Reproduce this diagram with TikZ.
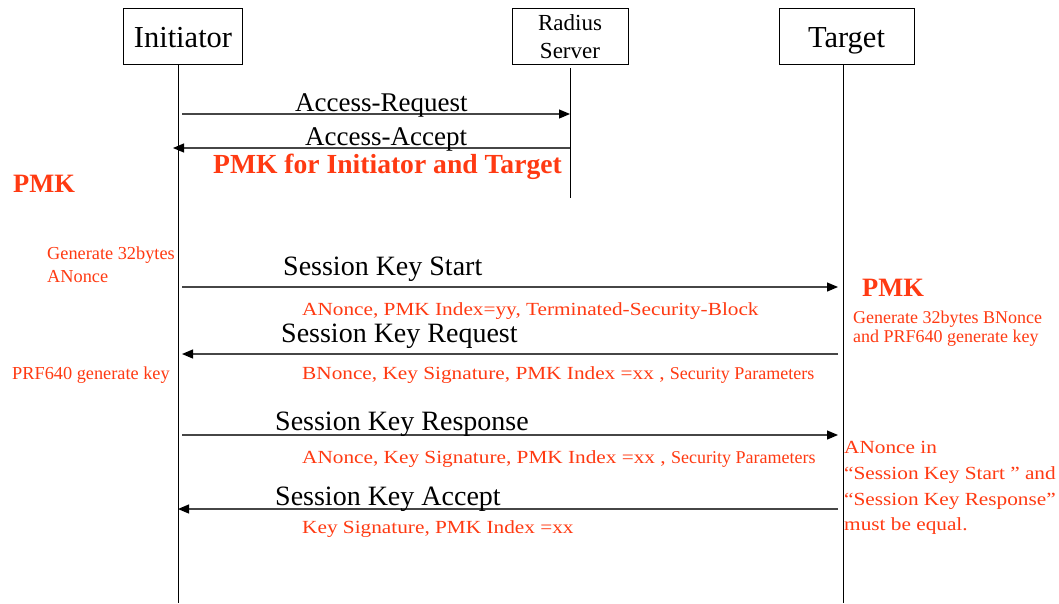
\documentclass[tikz,border=0pt]{standalone}
\usepackage{fontspec}
\setmainfont{Liberation Serif}
\newfontfamily\widefont[FakeStretch=1.15]{Liberation Serif}
\usetikzlibrary{arrows.meta}
\definecolor{note}{RGB}{255,58,18}
\definecolor{wire}{RGB}{70,70,70}
\newcommand\fs[1]{\fontsize{#1}{#1}\selectfont}
\tikzset{
  actor/.style={draw=black, line width=1pt, inner sep=0pt, minimum height=56pt},
  life/.style={draw=black, line width=0.9pt},
  msg/.style={draw=wire, line width=1.2pt, -{Triangle[length=11pt,width=9pt,color=black,fill=black]}},
  lbl/.style={anchor=base west, inner sep=0pt, font=\fs{28}},
  param/.style={anchor=base west, inner sep=0pt, text=note, font=\widefont\fs{18.5}},
  remark/.style={anchor=base west, inner sep=0pt, text=note, font=\fs{18.3}},
  keytag/.style={anchor=base west, inner sep=0pt, text=note, font=\bfseries\fs{26.5}},
}
\begin{document}
\begin{tikzpicture}[x=1pt, y=-1pt]
\useasboundingbox (0,0) rectangle (1059,603);
\fill[white] (0,0) rectangle (1059,603);

% participants
\node[actor, minimum width=119pt, font=\fs{30.5}, text height=24pt, text depth=2pt] (ini) at (183,36.5) {Initiator};
\node[actor, minimum width=116pt, font=\fs{23}, align=center] (rad) at (570,36.5) {Radius\\[5pt]Server};
\node[actor, minimum width=135pt, font=\fs{30.5}, text height=24pt, text depth=2pt] (tgt) at (846.5,36.5) {Target};

% lifelines
\coordinate (iniEnd) at (178,603);
\coordinate (radTop) at (570,68);
\coordinate (radEnd) at (570,198);
\coordinate (tgtTop) at (843,64.5);
\coordinate (tgtEnd) at (843,603);
\coordinate (iniTop) at (178,64.5);
\draw[life] (iniTop) -- (iniEnd);
\draw[life] (radTop) -- (radEnd);
\draw[life] (tgtTop) -- (tgtEnd);

% message end points on the lifelines
\coordinate (arA) at (182,114);  \coordinate (arB) at (570,114);
\coordinate (aaA) at (570,148);  \coordinate (aaB) at (173,148);
\coordinate (s1A) at (182,287);  \coordinate (s1B) at (838,287);
\coordinate (s2A) at (838,354);  \coordinate (s2B) at (182,354);
\coordinate (s3A) at (182,435);  \coordinate (s3B) at (838,435);
\coordinate (s4A) at (838,509);  \coordinate (s4B) at (178,509);

\draw[msg] (arA) -- (arB);
\draw[msg] (aaA) -- (aaB);
\draw[msg] (s1A) -- (s1B);
\draw[msg] (s2A) -- (s2B);
\draw[msg] (s3A) -- (s3B);
\draw[msg] (s4A) -- (s4B);

% message names
\node[lbl, font=\fs{27}] (arL) at (295,111) {Access-Request};
\node[lbl, font=\fs{27}] (aaL) at (305,145) {Access-Accept};
\node[lbl] (s1L) at (283,275) {Session Key Start};
\node[lbl] (s2L) at (281,342) {Session Key Request};
\node[lbl] (s3L) at (275,430) {Session Key Response};
\node[lbl] (s4L) at (275,505) {Session Key Accept};

% message contents
\node[keytag, font=\bfseries\fs{27.6}] (pmkAll) at (213,173) {PMK for Initiator and Target};
\node[param] (s1P) at (302,315) {ANonce, PMK Index=yy, Terminated-Security-Block};
\node[param] (s2P) at (302,379) {BNonce, Key Signature, PMK Index =xx , {\normalfont\fs{18}Security Parameters}};
\node[param] (s3P) at (302,463) {ANonce, Key Signature, PMK Index =xx , {\normalfont\fs{18}Security Parameters}};
\node[param] (s4P) at (302,533) {Key Signature, PMK Index =xx};

% initiator side notes
\node[keytag] (pmkI) at (13,192) {PMK};
\node[remark] (genA1) at (47,259) {Generate 32bytes};
\node[remark] (genA2) at (47,282) {ANonce};
\node[remark] (prfI) at (12,379) {PRF640 generate key};

% target side notes
\node[keytag] (pmkT) at (862,296) {PMK};
\node[remark, font=\fs{18}] (genB1) at (853,323) {Generate 32bytes BNonce};
\node[remark, font=\fs{18}] (genB2) at (853,342) {and PRF640 generate key};
\node[param] (eq1) at (844,453) {ANonce in};
\node[param] (eq2) at (844,479) {“Session Key Start ” and};
\node[param] (eq3) at (844,505) {“Session Key Response”};
\node[param] (eq4) at (844,530) {must be equal.};
\end{tikzpicture}
\end{document}
